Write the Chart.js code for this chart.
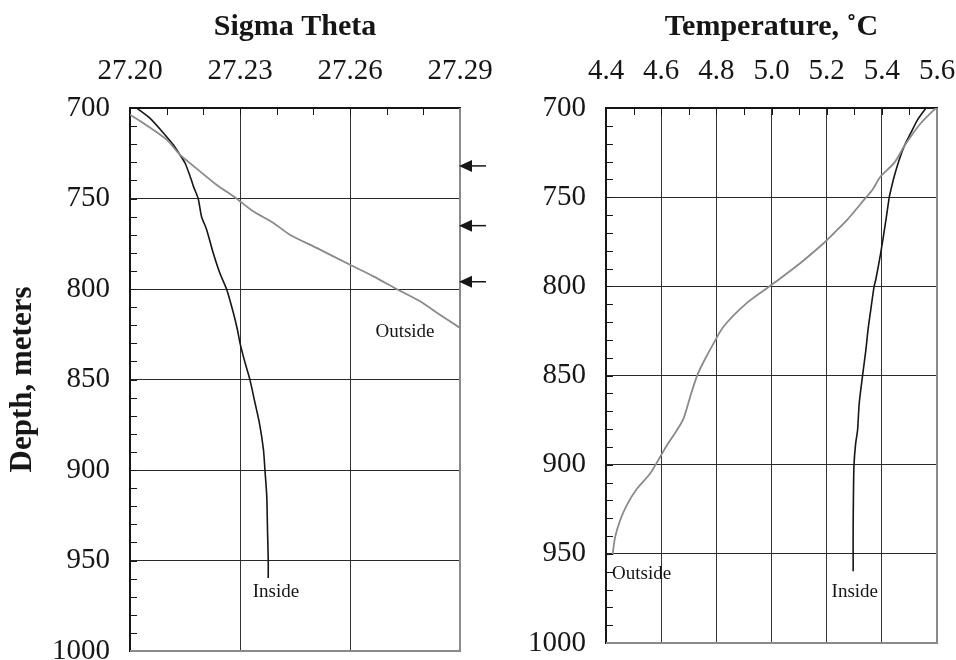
<!DOCTYPE html>
<html>
<head>
<meta charset="utf-8">
<script src="https://cdn.jsdelivr.net/npm/chart.js@4"></script>
<style>
  html, body { margin: 0; padding: 0; background: #fff; }
  .box { position: absolute; top: 0; height: 660px; }
</style>
</head>
<body>
<div class="box" style="left:0;width:520px"><canvas id="sigma"></canvas></div>
<div class="box" style="left:500px;width:456px"><canvas id="temp"></canvas></div>
<script>
// tick labels
const depthTicks = [700, 750, 800, 850, 900, 950, 1000];
const sigmaTicks = [27.20, 27.23, 27.26, 27.29];
const tempTicks = [4.4, 4.6, 4.8, 5.0, 5.2, 5.4, 5.6];

// sigma theta profiles
const sigmaInsideDepth = [700, 705.7, 713.8, 720.3, 725.8, 730.4, 737.8, 743.3, 750.1, 759.9, 767.2, 780.1, 791.2, 800.4, 813.3, 822.5,
  829.9, 840.9, 850.1, 863, 874.1, 888.8, 900, 914.6, 933, 949.6, 959.7];
const sigmaInside = [27.2018, 27.2055, 27.2091, 27.2118, 27.2136, 27.2150, 27.2164, 27.2173, 27.2186, 27.2195, 27.2209, 27.2227, 27.2245, 27.2264, 27.2282, 27.2293,
  27.2300, 27.2314, 27.2327, 27.2341, 27.2353, 27.2364, 27.2368, 27.2373, 27.2375, 27.2377, 27.2377];

const sigmaOutsideDepth = [703.7, 708.3, 717.5, 725.8, 735, 742.4, 750.1, 757.1, 763.5, 770, 777.3, 786.6, 793, 800, 806.8, 814.2, 821.5];
const sigmaOutside = [27.2000, 27.2036, 27.2100, 27.2136, 27.2191, 27.2236, 27.2291, 27.2336, 27.2391, 27.2436, 27.2509, 27.2600, 27.2664, 27.2727, 27.2791, 27.2845, 27.2900];

// temperature profiles
const tempInsideDepth = [700, 706.5, 714, 721.5, 729, 738.3, 745.8, 750, 762.6, 781.3, 796.3, 800, 813, 824.3,
  835.8, 850.2, 865.7, 880.7, 888.2, 900.4, 918.2, 936.9, 950.4, 959.7];
const tempInside = [5.560, 5.530, 5.505, 5.481, 5.463, 5.445, 5.433, 5.427, 5.415, 5.396, 5.378, 5.372, 5.360, 5.350,
  5.342, 5.330, 5.318, 5.312, 5.305, 5.299, 5.297, 5.296, 5.296, 5.296];

const tempOutsideDepth = [700, 708.4, 715.9, 721.5, 730.8, 738.3, 745.8, 751.4, 762.6, 770.1, 775.7, 786.9, 799, 809.3, 822.4,
  832, 842.3, 850.2, 862, 874.2, 880.7, 889.1, 895.7, 905, 913.5, 922.8, 931.3, 940.6, 950.4];
const tempOutside = [5.596, 5.542, 5.505, 5.481, 5.445, 5.396, 5.366, 5.336, 5.275, 5.227, 5.190, 5.105, 5.002, 4.911, 4.827,
  4.790, 4.754, 4.730, 4.705, 4.681, 4.657, 4.621, 4.596, 4.560, 4.512, 4.475, 4.451, 4.433, 4.424];

// marked depths (arrows on the sigma panel)
const arrowDepths = [732, 765, 796];

const serif = '"Liberation Serif", "Times New Roman", serif';
const ink = '#161616';
const grey = '#8a8a8a';

function pts(xs, ys) {
  return xs.map((v, i) => ({ x: v, y: ys[i] }));
}

function noPad(s) {
  s.paddingLeft = 0;
  s.paddingRight = 0;
  s.paddingTop = 0;
  s.paddingBottom = 0;
}

function makeDecor(cfg) {
  return {
    id: 'decor',
    afterDraw(chart) {
      const { ctx, chartArea: a, scales: { x, y } } = chart;
      ctx.save();
      // right and bottom frame
      ctx.strokeStyle = grey;
      ctx.lineWidth = 2;
      ctx.beginPath();
      ctx.moveTo(a.right, a.top);
      ctx.lineTo(a.right, a.bottom);
      ctx.lineTo(a.left, a.bottom);
      ctx.stroke();

      // inward minor ticks
      ctx.strokeStyle = ink;
      ctx.lineWidth = 1;
      ctx.beginPath();
      const nx = Math.round((x.max - x.min) / cfg.xMinor);
      for (let i = 1; i < nx; i++) {
        const px = Math.round(x.getPixelForValue(x.min + i * cfg.xMinor)) + 0.5;
        ctx.moveTo(px, a.top);
        ctx.lineTo(px, a.top + 7);
      }
      for (let v = y.min + 10; v < y.max; v += 10) {
        const py = Math.round(y.getPixelForValue(v)) + 0.5;
        ctx.moveTo(a.left, py);
        ctx.lineTo(a.left + 7, py);
      }
      ctx.stroke();

      // curve notes
      ctx.fillStyle = ink;
      ctx.font = '19px ' + serif;
      ctx.textBaseline = 'middle';
      cfg.notes.forEach(n => {
        ctx.textAlign = n.align || 'center';
        ctx.fillText(n.text, x.getPixelForValue(n.x), y.getPixelForValue(n.y));
      });

      // arrows
      ctx.strokeStyle = ink;
      ctx.lineWidth = 1.5;
      (cfg.arrows || []).forEach(d => {
        const py = y.getPixelForValue(d);
        const px = a.right - 1;
        ctx.beginPath();
        ctx.moveTo(px, py);
        ctx.lineTo(px + 13, py - 6);
        ctx.lineTo(px + 13, py + 6);
        ctx.closePath();
        ctx.fill();
        ctx.beginPath();
        ctx.moveTo(px + 12, py);
        ctx.lineTo(px + 27, py);
        ctx.stroke();
      });

      // depth title
      if (cfg.yTitle) {
        ctx.translate(23, (a.top + a.bottom) / 2);
        ctx.rotate(-Math.PI / 2);
        ctx.textAlign = 'center';
        ctx.font = 'bold 31px ' + serif;
        ctx.fillText(cfg.yTitle, 0, 0);
      }
      ctx.restore();
    }
  };
}

function makeChart(id, opt) {
  const last = opt.xTicks[opt.xTicks.length - 1];
  return new Chart(document.getElementById(id), {
    type: 'scatter',
    data: {
      datasets: [
        { data: opt.outside, borderColor: grey, borderWidth: 1.8, showLine: true, pointRadius: 0, tension: 0.25 },
        { data: opt.inside, borderColor: ink, borderWidth: 1.6, showLine: true, pointRadius: 0, tension: 0.25 }
      ]
    },
    options: {
      responsive: true,
      maintainAspectRatio: false,
      animation: false,
      layout: { autoPadding: false, padding: { left: 0, top: 0, right: opt.padRight, bottom: opt.padBottom } },
      plugins: { legend: { display: false }, tooltip: { enabled: false } },
      scales: {
        x: {
          type: 'linear',
          position: 'top',
          min: opt.xTicks[0],
          max: last,
          afterBuildTicks: s => { s.ticks = opt.xTicks.map(v => ({ value: v })); },
          afterFit: s => { s.height = 108; noPad(s); },
          ticks: {
            color: ink,
            padding: 19,
            maxRotation: 0,
            font: { family: serif, size: 29 },
            callback: v => v.toFixed(opt.digits)
          },
          grid: {
            drawTicks: false,
            lineWidth: 1,
            color: c => (c.tick && Math.abs(c.tick.value - last) < 1e-9) ? 'rgba(0,0,0,0)' : '#333'
          },
          border: { display: true, color: ink, width: 2 },
          title: {
            display: true,
            text: opt.xTitle,
            color: ink,
            padding: { top: 9, bottom: 0 },
            font: { family: serif, size: 30, weight: 'bold' }
          }
        },
        y: {
          type: 'linear',
          reverse: true,
          min: 700,
          max: 1000,
          afterBuildTicks: s => { s.ticks = depthTicks.map(v => ({ value: v })); },
          afterFit: s => { s.width = opt.yWidth; noPad(s); },
          ticks: {
            color: ink,
            padding: 20,
            font: { family: serif, size: 29 },
            callback: v => String(v)
          },
          grid: {
            drawTicks: false,
            lineWidth: 1,
            color: c => (c.tick && c.tick.value === 1000) ? 'rgba(0,0,0,0)' : '#2a2a2a'
          },
          border: { display: true, color: ink, width: 2 }
        }
      }
    },
    plugins: [makeDecor(opt.decor)]
  });
}

makeChart('sigma', {
  xTicks: sigmaTicks,
  digits: 2,
  xTitle: 'Sigma Theta',
  yWidth: 130,
  padRight: 60,
  padBottom: 9,
  outside: pts(sigmaOutside, sigmaOutsideDepth),
  inside: pts(sigmaInside, sigmaInsideDepth),
  decor: {
    xMinor: 0.01,
    arrows: arrowDepths,
    yTitle: 'Depth, meters',
    notes: [
      { text: 'Outside', x: 27.275, y: 824 },
      { text: 'Inside', x: 27.2398, y: 967.5 }
    ]
  }
});

makeChart('temp', {
  xTicks: tempTicks,
  digits: 1,
  xTitle: 'Temperature, \u02DAC',
  yWidth: 106,
  padRight: 19,
  padBottom: 17,
  outside: pts(tempOutside, tempOutsideDepth),
  inside: pts(tempInside, tempInsideDepth),
  decor: {
    xMinor: 0.1,
    notes: [
      { text: 'Outside', x: 4.422, y: 961.3, align: 'left' },
      { text: 'Inside', x: 5.302, y: 971.4 }
    ]
  }
});
</script>
</body>
</html>
